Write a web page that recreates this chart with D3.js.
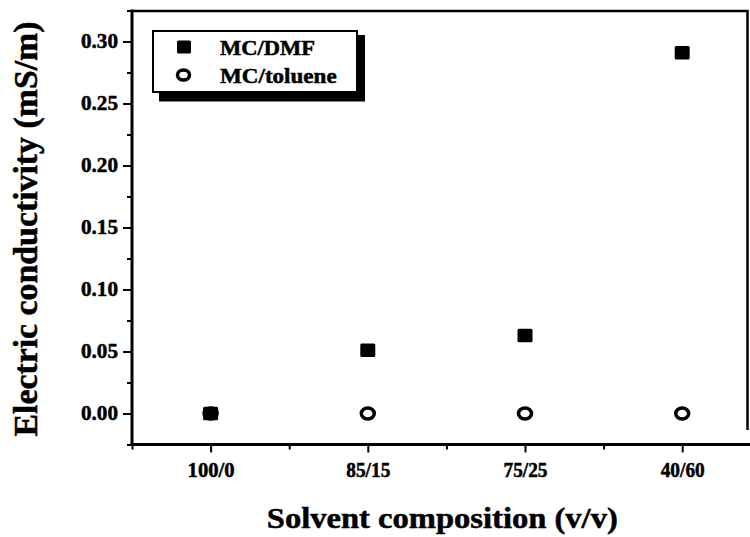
<!DOCTYPE html>
<html><head><meta charset="utf-8">
<script src="https://cdn.jsdelivr.net/npm/d3@7"></script>
<style>body{margin:0;background:#fff}svg{display:block}</style>
</head><body>
<svg id="c" width="750" height="537"></svg>
<script>
const categories = ["100/0", "85/15", "75/25", "40/60"];
const dmfValues = [0.0, 0.051, 0.063, 0.291];
const tolueneValues = [0.0, 0.0, 0.0, 0.0];
const yTicks = [0.00, 0.05, 0.10, 0.15, 0.20, 0.25, 0.30];
const yMinorTicks = [-0.025, 0.025, 0.075, 0.125, 0.175, 0.225, 0.275, 0.325];
const xMinorTicks = [-0.5, 0.5, 1.5, 2.5, 3.5];
const seriesNames = ["MC/DMF", "MC/toluene"];
const xTitle = "Solvent composition (v/v)";
const yTitle = "Electric conductivity (mS/m)";

const font = "'Liberation Serif','Times New Roman',serif";
const svg = d3.select("#c");
const x = d3.scaleLinear().domain([-0.5, 3.5]).range([132, 760.8]);
const y = d3.scaleLinear().domain([-0.025, 0.325]).range([444.5, 10.5]);

function heavy(sel) { return sel.attr("stroke", "#000").attr("stroke-width", 0.5).attr("fill", "#000"); }

// Y axis
const yAxis = svg.append("g").attr("transform", "translate(132,0)")
  .call(d3.axisLeft(y).tickValues(yTicks).tickSize(9).tickPadding(5).tickFormat(d3.format(".2f")));
yAxis.select(".domain").remove();
yAxis.selectAll(".tick line").attr("stroke", "#000").attr("stroke-width", 2);
heavy(yAxis.selectAll(".tick text").attr("font-family", font).attr("font-weight", "bold")
  .attr("font-size", 20).attr("textLength", 37).attr("lengthAdjust", "spacingAndGlyphs"));
const yMinor = svg.append("g").attr("transform", "translate(132,0)")
  .call(d3.axisLeft(y).tickValues(yMinorTicks).tickSize(5).tickFormat(""));
yMinor.select(".domain").remove();
yMinor.selectAll(".tick line").attr("stroke", "#000").attr("stroke-width", 2);

// X axis
const xLabelLens = [47, 44, 44, 44];
const xAxis = svg.append("g").attr("transform", "translate(0,444.5)")
  .call(d3.axisBottom(x).tickValues([0, 1, 2, 3]).tickSize(8).tickPadding(10).tickFormat(i => categories[i]));
xAxis.select(".domain").remove();
xAxis.selectAll(".tick line").attr("stroke", "#000").attr("stroke-width", 2);
heavy(xAxis.selectAll(".tick text").attr("font-family", font).attr("font-weight", "bold")
  .attr("font-size", 20).attr("textLength", (d, i) => xLabelLens[i]).attr("lengthAdjust", "spacingAndGlyphs"));
const xMinor = svg.append("g").attr("transform", "translate(0,444.5)")
  .call(d3.axisBottom(x).tickValues(xMinorTicks).tickSize(5).tickFormat(""));
xMinor.select(".domain").remove();
xMinor.selectAll(".tick line").attr("stroke", "#000").attr("stroke-width", 2);

// Frame
svg.append("line").attr("x1", 132).attr("x2", 132).attr("y1", 9.5).attr("y2", 446)
  .attr("stroke", "#000").attr("stroke-width", 3);
svg.append("line").attr("x1", 130.5).attr("x2", 750).attr("y1", 444.5).attr("y2", 444.5)
  .attr("stroke", "#000").attr("stroke-width", 3);
svg.append("line").attr("x1", 132).attr("x2", 748.5).attr("y1", 11).attr("y2", 11)
  .attr("stroke", "#000").attr("stroke-width", 2.5);
svg.append("line").attr("x1", 747.5).attr("x2", 747.5).attr("y1", 10).attr("y2", 430)
  .attr("stroke", "#000").attr("stroke-width", 2.5);

// Data
const g = svg.append("g");
g.selectAll("ellipse.tol").data(tolueneValues).join("ellipse").attr("class", "tol")
  .attr("cx", (d, i) => x(i)).attr("cy", d => y(d)).attr("rx", 6.5).attr("ry", 5.5)
  .attr("fill", "#fff").attr("stroke", "#000").attr("stroke-width", 3.5);
g.selectAll("rect.dmf").data(dmfValues).join("rect").attr("class", "dmf")
  .attr("x", (d, i) => x(i) - 7.5).attr("y", d => y(d) - 6.75).attr("width", 15).attr("height", 13.5)
  .attr("rx", 1.5).attr("fill", "#000");

// Legend
svg.append("rect").attr("x", 159).attr("y", 35).attr("width", 206).attr("height", 66.5).attr("fill", "#000");
svg.append("rect").attr("x", 153).attr("y", 31).attr("width", 204).attr("height", 61)
  .attr("fill", "#fff").attr("stroke", "#000").attr("stroke-width", 2);
svg.append("rect").attr("x", 184 - 7).attr("y", 47 - 6.5).attr("width", 14).attr("height", 13).attr("rx", 1.5).attr("fill", "#000");
svg.append("ellipse").attr("cx", 183.5).attr("cy", 75).attr("rx", 6).attr("ry", 5)
  .attr("fill", "#fff").attr("stroke", "#000").attr("stroke-width", 3.5);
const legLens = [95, 116.7];
heavy(svg.selectAll("text.leg").data(seriesNames).join("text").attr("class", "leg")
  .attr("x", 220).attr("y", (d, i) => 55 + i * 28.3).text(d => d)
  .attr("font-family", font).attr("font-weight", "bold").attr("font-size", 20.5)
  .attr("textLength", (d, i) => legLens[i]).attr("lengthAdjust", "spacingAndGlyphs"));

// Titles
heavy(svg.append("text").attr("x", 442.3).attr("y", 528.3).attr("text-anchor", "middle").text(xTitle)
  .attr("font-family", font).attr("font-weight", "bold").attr("font-size", 30)
  .attr("textLength", 351).attr("lengthAdjust", "spacingAndGlyphs"));
heavy(svg.append("text").attr("transform", "translate(37,229) rotate(-90)").attr("text-anchor", "middle").text(yTitle)
  .attr("font-family", font).attr("font-weight", "bold").attr("font-size", 33)
  .attr("textLength", 415).attr("lengthAdjust", "spacingAndGlyphs"));
</script>
</body></html>
